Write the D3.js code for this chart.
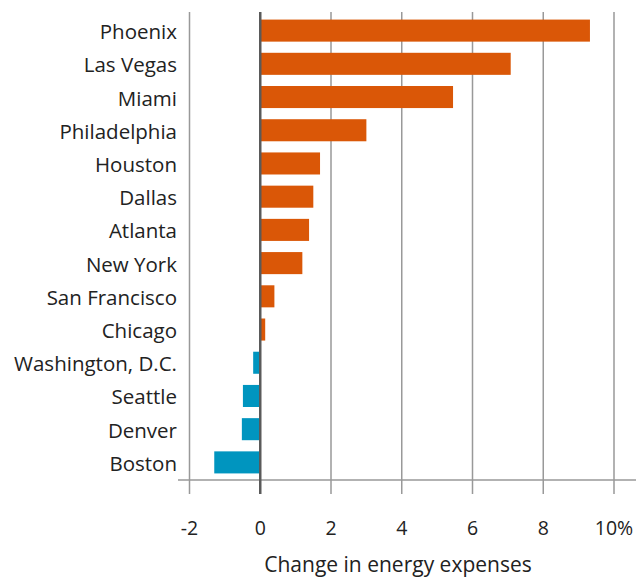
<!DOCTYPE html>
<html>
<head>
<meta charset="utf-8">
<script src="https://cdn.jsdelivr.net/npm/d3@7"></script>
<style>
  html, body { margin: 0; padding: 0; background: #fff; }
  svg { display: block; }
  text { font-family: "Open Sans", Lato, sans-serif; fill: #222; }
</style>
</head>
<body>
<svg id="chart" width="636" height="580"></svg>
<script>
const cities = ["Phoenix","Las Vegas","Miami","Philadelphia","Houston","Dallas","Atlanta","New York","San Francisco","Chicago","Washington, D.C.","Seattle","Denver","Boston"];
const changes = [9.32, 7.08, 5.45, 3.0, 1.69, 1.5, 1.38, 1.19, 0.4, 0.14, -0.2, -0.49, -0.52, -1.3];
const tickValues = [-2, 0, 2, 4, 6, 8, 10];
const tickLabels = ["-2", "0", "2", "4", "6", "8", "10%"];
const axisTitle = "Change in energy expenses";

const svg = d3.select("#chart");
const x = d3.scaleLinear().domain([-2, 10]).range([189.5, 614]);
const y = d3.scaleBand().domain(cities).range([14, 479]).paddingInner(0.336).paddingOuter(0.168);

const gridTop = 12, axisY = 480, tickBottom = 494;

svg.append("g").selectAll("line").data(tickValues.filter(d => d !== 0)).join("line")
  .attr("x1", d => x(d)).attr("x2", d => x(d))
  .attr("y1", gridTop).attr("y2", tickBottom)
  .attr("stroke", "#999").attr("stroke-width", 1.5);

svg.append("line").attr("x1", 178).attr("x2", 636).attr("y1", axisY).attr("y2", axisY)
  .attr("stroke", "#999").attr("stroke-width", 1.5);

svg.append("g").selectAll("rect").data(cities).join("rect")
  .attr("x", (d, i) => changes[i] >= 0 ? x(0) : x(changes[i]))
  .attr("width", (d, i) => Math.abs(x(changes[i]) - x(0)))
  .attr("y", d => y(d))
  .attr("height", y.bandwidth())
  .attr("fill", (d, i) => changes[i] >= 0 ? "#DA5707" : "#0095BF");

svg.append("line").attr("x1", x(0)).attr("x2", x(0)).attr("y1", gridTop).attr("y2", tickBottom)
  .attr("stroke", "#5a5a5a").attr("stroke-width", 2.5);

svg.append("g").selectAll("text").data(cities).join("text")
  .attr("x", 177).attr("y", d => y(d) + y.bandwidth() / 2 + 8.5)
  .attr("text-anchor", "end")
  .attr("font-size", 20.5).text(d => d);

svg.append("g").selectAll("text").data(tickValues).join("text")
  .attr("x", d => x(d))
  .attr("y", 535).attr("text-anchor", "middle")
  .attr("font-size", 19.5).text((d, i) => tickLabels[i]);

svg.append("text").attr("x", 398).attr("y", 572)
  .attr("text-anchor", "middle").attr("font-size", 21).text(axisTitle);
</script>
</body>
</html>
